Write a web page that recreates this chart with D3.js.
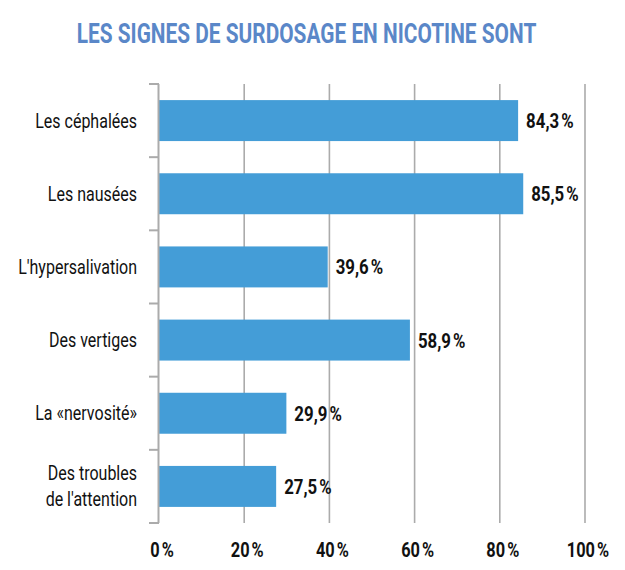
<!DOCTYPE html>
<html><head><meta charset="utf-8">
<script src="https://cdn.jsdelivr.net/npm/d3@7"></script>
<style>
html,body{margin:0;padding:0;background:#fff;}
svg{display:block;font-family:Roboto, sans-serif;}
</style></head>
<body>
<svg id="chart" width="625" height="570"></svg>
<script>
const title = "LES SIGNES DE SURDOSAGE EN NICOTINE SONT";
const categories = ["Les céphalées", "Les nausées", "L'hypersalivation", "Des vertiges", "La «nervosité»", "Des troubles\nde l'attention"];
const values = [84.3, 85.5, 39.6, 58.9, 29.9, 27.5];
const ticks = [0, 20, 40, 60, 80, 100];

const svg = d3.select("#chart");
const x = d3.scaleLinear().domain([0, 100]).range([159, 585]);
const y = d3.scaleBand().domain(categories).range([84, 523]).paddingInner(0.44).paddingOuter(0.22);
const grey = "#ababab";
const fmt = v => d3.format(".1f")(v).replace(".", ",") + "\u202F%";

// Title
svg.append("text")
  .attr("transform", `translate(306.5,43) scale(0.745,1)`)
  .attr("text-anchor", "middle")
  .attr("font-size", 28).attr("font-weight", 700)
  .attr("fill", "#5a87c8")
  .text(title);

// Gridlines
svg.append("g").selectAll("line").data(ticks.slice(1)).join("line")
  .attr("x1", d => x(d)).attr("x2", d => x(d))
  .attr("y1", 84).attr("y2", 523)
  .attr("stroke", grey).attr("stroke-width", 1.6);

// Bars
svg.append("g").selectAll("rect").data(values).join("rect")
  .attr("x", x(0))
  .attr("y", (d, i) => y(categories[i]))
  .attr("width", d => x(d) - x(0))
  .attr("height", y.bandwidth())
  .attr("fill", "#449dd7");

// Left axis line and band-boundary ticks
const bounds = d3.range(categories.length + 1).map(i => 84 + i * (523 - 84) / categories.length);
svg.append("line").attr("x1", x(0) - 0.5).attr("x2", x(0) - 0.5).attr("y1", 84).attr("y2", 523)
  .attr("stroke", grey).attr("stroke-width", 2);
svg.append("g").selectAll("line").data(bounds).join("line")
  .attr("x1", 149).attr("x2", x(0)).attr("y1", d => d).attr("y2", d => d)
  .attr("stroke", grey).attr("stroke-width", 2);

// Category labels
const lab = svg.append("g").selectAll("g").data(categories).join("g")
  .attr("transform", d => `translate(137,${y(d) + y.bandwidth() / 2}) scale(0.8,1)`);
lab.each(function(d) {
  const lines = d.split("\n");
  const t = d3.select(this).append("text").attr("text-anchor", "end")
    .attr("font-size", 20).attr("fill", "#111");
  const lh = 26;
  lines.forEach((l, k) => {
    t.append("tspan").attr("x", 0)
      .attr("y", (k - (lines.length - 1) / 2) * lh + 7)
      .text(l);
  });
});

// Value labels
svg.append("g").selectAll("text").data(values).join("text")
  .attr("transform", (d, i) => `translate(${x(d) + 8},${y(categories[i]) + y.bandwidth() / 2 + 7.5}) scale(0.8,1)`)
  .attr("font-size", 21).attr("font-weight", 700).attr("fill", "#111")
  .text(d => fmt(d));

// X tick labels
svg.append("g").selectAll("text").data(ticks).join("text")
  .attr("transform", d => `translate(${x(d) + 3},557) scale(0.82,1)`)
  .attr("text-anchor", "middle")
  .attr("font-size", 20).attr("font-weight", 700).attr("fill", "#111")
  .text(d => d + "\u202F%");
</script>
</body></html>
